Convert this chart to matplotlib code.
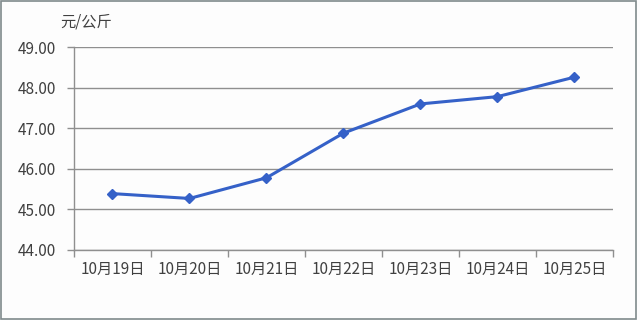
import matplotlib
matplotlib.use("Agg")
import matplotlib.pyplot as plt
from matplotlib.patches import Rectangle

plt.rcParams['font.family'] = ['Noto Sans CJK SC', 'DejaVu Sans']

dates = ["10月19日", "10月20日", "10月21日", "10月22日", "10月23日", "10月24日", "10月25日"]
prices = [45.39, 45.27, 45.78, 46.88, 47.60, 47.78, 48.26]
y_ticks = [44, 45, 46, 47, 48, 49]

fig = plt.figure(figsize=(6.4, 3.2), dpi=100)
fig.patch.set_facecolor('#fdfdfd')
ax = fig.add_axes([0.1156, 0.21875, 0.8422, 0.634])
ax.set_facecolor('#fdfdfd')

x = list(range(len(dates)))
ax.plot(x, prices, color='#3561c8', lw=2.2, marker='D', ms=5.5,
        markerfacecolor='#3561c8', markeredgecolor='#3561c8', zorder=3)

ax.set_xlim(-0.5, len(dates) - 0.5)
ax.set_ylim(44, 49)
ax.set_yticks(y_ticks)
ax.set_yticklabels([f"{v:.2f}" for v in y_ticks])
ax.yaxis.grid(True, color='#8f8f8f', lw=1.0)
ax.set_axisbelow(True)

# category ticks on the bin edges, labels in the middle
ax.set_xticks([i - 0.5 for i in range(len(dates) + 1)])
ax.set_xticklabels([])
ax.set_xticks(x, minor=True)
ax.set_xticklabels(dates, minor=True)
ax.tick_params(axis='x', which='major', length=5, color='#8f8f8f', width=1)
ax.tick_params(axis='x', which='minor', length=0, pad=8)
ax.tick_params(axis='y', length=5, color='#8f8f8f', width=1, pad=8)
ax.tick_params(which='both', labelsize=11, labelcolor='#404040')

for s in ['top', 'right']:
    ax.spines[s].set_visible(False)
for s in ['left', 'bottom']:
    ax.spines[s].set_color('#8f8f8f')
    ax.spines[s].set_linewidth(1)

fig.text(0.094, 0.932, "元/公斤", fontsize=11, color='#404040', ha='left', va='center')

fig.patches.append(Rectangle((0.001, 0.002), 0.993, 0.995, transform=fig.transFigure,
                             fill=False, edgecolor='#808a8c', lw=1.2))

fig.savefig("out.png", dpi=100, facecolor=fig.get_facecolor())
